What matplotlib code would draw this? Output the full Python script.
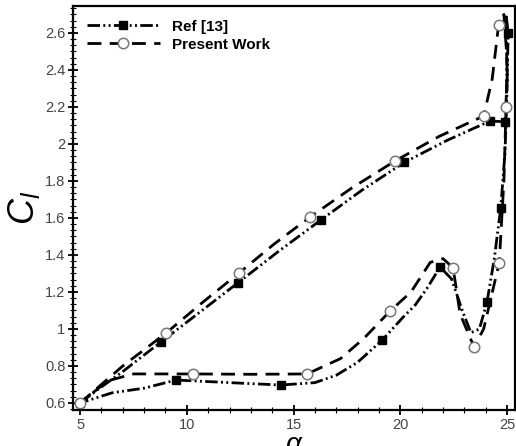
import matplotlib
matplotlib.use('Agg')
import matplotlib.pyplot as plt
from matplotlib.ticker import MultipleLocator, FormatStrFormatter, AutoMinorLocator

plt.rcParams['font.family'] = 'Liberation Sans'
plt.rcParams['mathtext.fontset'] = 'custom'
plt.rcParams['mathtext.it'] = 'Liberation Sans:italic'
plt.rcParams['mathtext.rm'] = 'Liberation Sans'

# Ref [13]: closed loop path, squares at ref_marks
ref_alpha = [5.0, 5.8, 7.0, 8.79, 10.6, 12.4, 14.3, 16.29, 18.2, 20.18, 22.2, 24.2, 24.9,
             25.0, 25.05, 24.95, 25.0, 24.9, 24.7, 24.4, 24.06, 23.7, 23.3, 22.9, 22.4,
             21.86, 21.25, 20.7, 20.1, 19.15, 18.0, 17.0, 16.0, 14.4, 12.0, 9.5, 8.0, 6.5, 5.0]
ref_cl = [0.60, 0.67, 0.77, 0.93, 1.09, 1.25, 1.42, 1.59, 1.75, 1.90, 2.02, 2.124, 2.12,
          2.35, 2.60, 2.70, 2.30, 1.95, 1.654, 1.38, 1.146, 1.00, 0.98, 1.10, 1.27,
          1.335, 1.22, 1.13, 1.06, 0.94, 0.82, 0.75, 0.71, 0.697, 0.71, 0.724, 0.68, 0.655, 0.60]
ref_marks = [0, 3, 5, 7, 9, 11, 12, 14, 18, 20, 25, 29, 33, 35]

# Present Work
pw_alpha = [5.0, 7.0, 9.03, 10.7, 12.45, 14.1, 15.77, 17.7, 19.75, 21.8, 23.9, 24.3, 24.6,
            24.85, 25.0, 24.95, 24.85, 24.63, 23.9, 23.45, 22.8, 22.47, 22.0, 21.4, 20.5,
            19.52, 18.3, 17.2, 15.63, 13.0, 10.3, 7.5, 6.3, 5.0]
pw_cl = [0.60, 0.80, 0.978, 1.14, 1.303, 1.46, 1.605, 1.76, 1.908, 2.04, 2.151, 2.35, 2.643,
         2.70, 2.45, 2.20, 1.80, 1.357, 1.00, 0.903, 1.08, 1.33, 1.38, 1.36, 1.20,
         1.097, 0.95, 0.84, 0.757, 0.755, 0.757, 0.757, 0.72, 0.60]
pw_marks = [0, 2, 4, 6, 8, 10, 12, 15, 17, 19, 21, 25, 28, 30]

fig = plt.figure(figsize=(5.16, 4.46), dpi=100)
ax = fig.add_axes([0.1415, 0.0807, 0.8566, 0.906])

ax.plot(ref_alpha, ref_cl, color='black', lw=2, linestyle=(0, (4.5, 1.2, 0.7, 1.2, 0.7, 1.2)),
        marker='s', markevery=ref_marks, markersize=5.5, markerfacecolor='black',
        markeredgecolor='black', label='Ref [13]')
ax.plot(pw_alpha, pw_cl, color='black', lw=2, linestyle=(0, (5, 3)),
        marker='o', markevery=pw_marks, markersize=7.5, markerfacecolor='white',
        markeredgecolor='#777777', markeredgewidth=1.1, label='Present Work')

ax.set_xlim(4.67, 25.37)
ax.set_ylim(0.562, 2.746)
ax.xaxis.set_major_locator(MultipleLocator(5))
ax.xaxis.set_minor_locator(MultipleLocator(1))
ax.yaxis.set_major_locator(MultipleLocator(0.2))
ax.yaxis.set_minor_locator(AutoMinorLocator(6))
ax.yaxis.set_major_formatter(FormatStrFormatter('%g'))

ax.tick_params(which='major', direction='inout', length=7, width=1.3, labelsize=10.5,
               labelcolor='#444444', pad=2)
ax.tick_params(which='minor', direction='inout', length=4, width=0.8)
for s in ax.spines.values():
    s.set_linewidth(1.6)

ax.set_ylabel(r'$C_l$', fontsize=26, labelpad=2)
ax.set_xlabel(r'$\alpha$', fontsize=20, labelpad=0)

leg = ax.legend(loc='upper left', frameon=False, handlelength=4.8, borderaxespad=0.5,
                borderpad=0.4, prop={'weight': 'bold', 'size': 11}, labelspacing=0.25,
                handletextpad=0.8)

fig.savefig('out.png', dpi=100)
